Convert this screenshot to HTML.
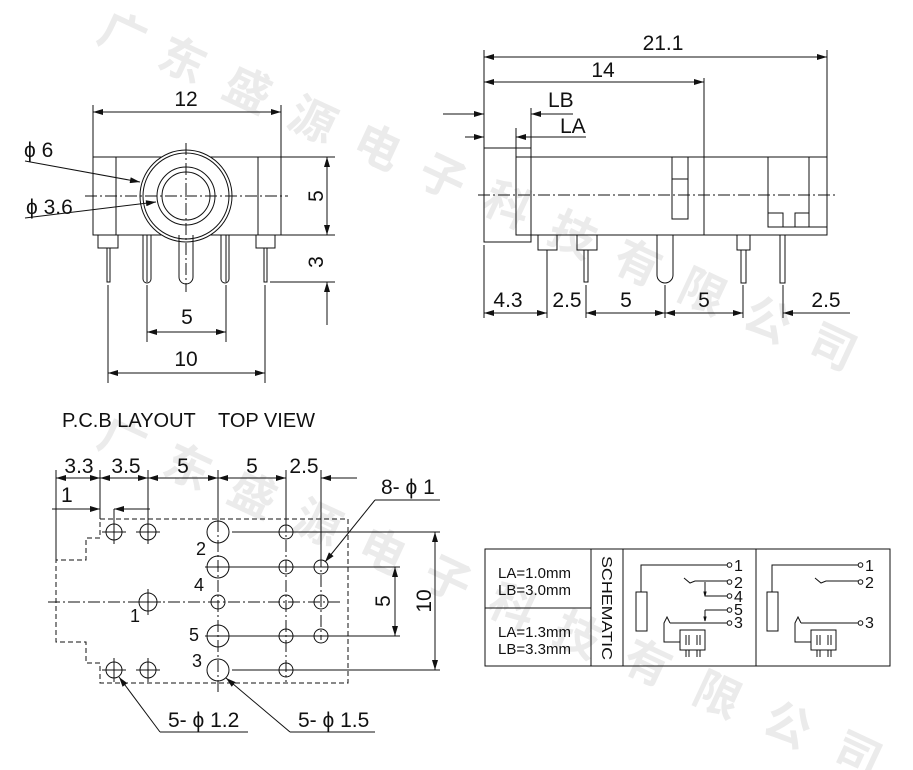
<!DOCTYPE html>
<html><head><meta charset="utf-8"><style>
html,body{margin:0;padding:0;background:#fff}
svg{display:block}
text{font-family:"Liberation Sans",Arial,sans-serif;fill:#111}
.wm text{font-family:"Liberation Sans","Noto Sans CJK SC",sans-serif;fill:#ebebeb;font-size:46px;font-weight:bold}
</style></head><body>
<svg width="913" height="770" viewBox="0 0 913 770" xmlns="http://www.w3.org/2000/svg">
<defs>
<marker id="a" viewBox="0 0 10 6" refX="10" refY="3" markerWidth="14" markerHeight="6" markerUnits="userSpaceOnUse" orient="auto-start-reverse"><path d="M0,0 L10,3 L0,6z" fill="#111"/></marker>
</defs>
<!-- watermark -->
<g class="wm">
<text transform="translate(95,40) rotate(25)">广</text>
<text transform="translate(155,65) rotate(25)">东</text>
<text transform="translate(220,95) rotate(25)">盛</text>
<text transform="translate(285,125) rotate(25)">源</text>
<text transform="translate(350,152) rotate(25)">电</text>
<text transform="translate(415,182) rotate(25)">子</text>
<text transform="translate(480,210) rotate(25)">科</text>
<text transform="translate(545,240) rotate(25)">技</text>
<text transform="translate(610,268) rotate(25)">有</text>
<text transform="translate(675,297) rotate(25)">限</text>
<text transform="translate(740,325) rotate(25)">公</text>
<text transform="translate(805,352) rotate(25)">司</text>
<text transform="translate(95,445) rotate(25)">广</text>
<text transform="translate(160,472) rotate(25)">东</text>
<text transform="translate(225,500) rotate(25)">盛</text>
<text transform="translate(290,528) rotate(25)">源</text>
<text transform="translate(355,556) rotate(25)">电</text>
<text transform="translate(420,584) rotate(25)">子</text>
<text transform="translate(485,612) rotate(25)">科</text>
<text transform="translate(550,640) rotate(25)">技</text>
<text transform="translate(620,668) rotate(25)">有</text>
<text transform="translate(690,700) rotate(25)">限</text>
<text transform="translate(760,730) rotate(25)">公</text>
<text transform="translate(830,760) rotate(25)">司</text>
</g>

<g stroke="#111" stroke-width="1" fill="none">
<!-- FRONT VIEW -->
<line x1="93" y1="105" x2="93" y2="157"/><line x1="281" y1="105" x2="281" y2="157"/>
<line x1="93" y1="112" x2="281" y2="112" marker-start="url(#a)" marker-end="url(#a)"/>
<rect x="93" y="157" width="188" height="78"/>
<line x1="116" y1="157" x2="116" y2="235"/><line x1="258" y1="157" x2="258" y2="235"/>
<circle cx="186" cy="196" r="46" fill="#fff"/><circle cx="186" cy="196" r="43"/>
<circle cx="186" cy="196" r="29"/><circle cx="186" cy="196" r="24"/>
<line x1="85" y1="196" x2="288" y2="196" stroke-dasharray="12,3,2,3"/>
<line x1="186" y1="143" x2="186" y2="292" stroke-dasharray="12,3,2,3"/>
<line x1="25" y1="161" x2="140" y2="182" marker-end="url(#a)"/>
<line x1="25" y1="218" x2="156" y2="202" marker-end="url(#a)"/>
<line x1="281" y1="157" x2="335" y2="157"/><line x1="281" y1="235" x2="335" y2="235"/>
<line x1="327" y1="157" x2="327" y2="235" marker-start="url(#a)" marker-end="url(#a)"/>
<rect x="98" y="235" width="20" height="13"/><rect x="107" y="248" width="3" height="34"/>
<rect x="256" y="235" width="19" height="13"/><rect x="264" y="248" width="3" height="34"/>
<path d="M143,235 V279 a4,4 0 0 0 8,0 V235"/><line x1="147" y1="235" x2="147" y2="282"/>
<path d="M221,235 V279 a4,4 0 0 0 8,0 V235"/><line x1="226" y1="235" x2="226" y2="282"/>
<path d="M179,235 V277 a7,7 0 0 0 14,0 V235"/>
<line x1="270" y1="282" x2="335" y2="282"/>
<line x1="327" y1="325" x2="327" y2="282" marker-end="url(#a)"/>
<line x1="147" y1="285" x2="147" y2="342"/><line x1="226" y1="285" x2="226" y2="342"/>
<line x1="147" y1="332" x2="226" y2="332" marker-start="url(#a)" marker-end="url(#a)"/>
<line x1="108" y1="285" x2="108" y2="383"/><line x1="265" y1="285" x2="265" y2="383"/>
<line x1="108" y1="373" x2="265" y2="373" marker-start="url(#a)" marker-end="url(#a)"/>

<!-- SIDE VIEW -->
<line x1="484" y1="50" x2="484" y2="148"/><line x1="827" y1="50" x2="827" y2="157"/>
<line x1="484" y1="57" x2="827" y2="57" marker-start="url(#a)" marker-end="url(#a)"/>
<line x1="704" y1="78" x2="704" y2="157"/>
<line x1="484" y1="82" x2="704" y2="82" marker-start="url(#a)" marker-end="url(#a)"/>
<line x1="443" y1="114" x2="484" y2="114" marker-end="url(#a)"/>
<line x1="573" y1="114" x2="531" y2="114" marker-end="url(#a)"/>
<line x1="531" y1="108" x2="531" y2="148"/>
<line x1="465" y1="137" x2="484" y2="137" marker-end="url(#a)"/>
<line x1="586" y1="137" x2="516" y2="137" marker-end="url(#a)"/>
<line x1="516" y1="128" x2="516" y2="157"/>
<rect x="484" y="148" width="47" height="94"/>
<rect x="516" y="157" width="311" height="78"/>
<line x1="704" y1="157" x2="704" y2="235"/>
<rect x="672" y="157" width="16" height="62"/><line x1="672" y1="179" x2="688" y2="179"/>
<line x1="768" y1="157" x2="768" y2="227"/><line x1="809" y1="157" x2="809" y2="227"/>
<line x1="768" y1="227" x2="827" y2="227"/>
<rect x="768" y="213" width="15" height="14"/><rect x="795" y="213" width="14" height="14"/>
<line x1="478" y1="195" x2="835" y2="195" stroke-dasharray="12,3,2,3"/>
<rect x="538" y="235" width="19" height="15"/>
<rect x="577" y="235" width="20" height="15"/><rect x="584" y="250" width="4" height="32"/>
<path d="M657,235 V275 a8,8 0 0 0 16,0 V235"/>
<rect x="737" y="235" width="13" height="15"/><rect x="741" y="250" width="5" height="33"/>
<rect x="780" y="235" width="5" height="48"/>
<line x1="484" y1="245" x2="484" y2="318"/><line x1="547" y1="250" x2="547" y2="318"/>
<line x1="586" y1="285" x2="586" y2="318"/><line x1="665" y1="285" x2="665" y2="318"/>
<line x1="743" y1="285" x2="743" y2="318"/><line x1="783" y1="285" x2="783" y2="318"/>
<line x1="484" y1="313" x2="547" y2="313" marker-start="url(#a)" marker-end="url(#a)"/>
<line x1="586" y1="313" x2="665" y2="313" marker-start="url(#a)" marker-end="url(#a)"/>
<line x1="665" y1="313" x2="743" y2="313" marker-start="url(#a)" marker-end="url(#a)"/>
<line x1="850" y1="313" x2="783" y2="313" marker-end="url(#a)"/>

<!-- PCB LAYOUT -->
<line x1="56" y1="470" x2="56" y2="560"/><line x1="100" y1="470" x2="100" y2="519"/>
<line x1="148" y1="470" x2="148" y2="520"/><line x1="218" y1="470" x2="218" y2="520"/>
<line x1="286" y1="470" x2="286" y2="520"/><line x1="321" y1="470" x2="321" y2="555"/>
<line x1="56" y1="478" x2="100" y2="478" marker-start="url(#a)" marker-end="url(#a)"/>
<line x1="100" y1="478" x2="148" y2="478" marker-start="url(#a)" marker-end="url(#a)"/>
<line x1="148" y1="478" x2="218" y2="478" marker-start="url(#a)" marker-end="url(#a)"/>
<line x1="218" y1="478" x2="286" y2="478" marker-start="url(#a)" marker-end="url(#a)"/>
<line x1="357" y1="478" x2="321" y2="478" marker-end="url(#a)"/>
<line x1="52" y1="509" x2="100" y2="509" marker-end="url(#a)"/>
<line x1="150" y1="509" x2="114" y2="509" marker-end="url(#a)"/>
<line x1="114" y1="509" x2="114" y2="522"/>
<path d="M100,519 H348 V683 H100 V663 H86 V642 H56 V560 H86 V538 H100 Z" stroke-dasharray="5,3"/>
<line x1="48" y1="602" x2="340" y2="602" stroke-dasharray="12,3,2,3"/>
<line x1="218" y1="520" x2="218" y2="695" stroke-dasharray="12,3,2,3"/>
<line x1="286" y1="520" x2="286" y2="682" stroke-dasharray="12,3,2,3"/>
<line x1="321" y1="555" x2="321" y2="640" stroke-dasharray="12,3,2,3"/>
<line x1="232" y1="532" x2="440" y2="532"/><line x1="205" y1="567" x2="400" y2="567"/>
<line x1="205" y1="636" x2="400" y2="636"/><line x1="232" y1="670" x2="440" y2="670"/>
<line x1="395" y1="567" x2="395" y2="636" marker-start="url(#a)" marker-end="url(#a)"/>
<line x1="435" y1="532" x2="435" y2="670" marker-start="url(#a)" marker-end="url(#a)"/>
<g>
<circle cx="114" cy="532" r="8"/><circle cx="148" cy="532" r="8"/><circle cx="218" cy="532" r="11"/><circle cx="286" cy="532" r="7"/>
<circle cx="218" cy="567" r="11"/><circle cx="286" cy="567" r="7"/><circle cx="321" cy="567" r="7"/>
<circle cx="148" cy="602" r="9"/><circle cx="218" cy="602" r="7"/><circle cx="286" cy="602" r="7"/><circle cx="321" cy="602" r="7"/>
<circle cx="218" cy="636" r="11"/><circle cx="286" cy="636" r="7"/><circle cx="321" cy="636" r="7"/>
<circle cx="114" cy="670" r="8"/><circle cx="148" cy="670" r="8"/><circle cx="218" cy="670" r="11"/><circle cx="286" cy="670" r="7"/>
<path d="M114,520V544M102,532H126M148,520V544M136,532H160M114,658V682M102,670H126M148,658V682M136,670H160M148,589V615M135,602H161"/>
</g>
<path d="M440,500 H375"/><line x1="375" y1="500" x2="325" y2="562" marker-end="url(#a)"/>
<path d="M248,732 H160"/><line x1="160" y1="732" x2="119" y2="677" marker-end="url(#a)"/>
<path d="M375,732 H290"/><line x1="290" y1="732" x2="226" y2="678" marker-end="url(#a)"/>

<!-- SCHEMATIC TABLE -->
<rect x="485" y="549" width="405" height="117"/>
<line x1="591" y1="549" x2="591" y2="666"/><line x1="623" y1="549" x2="623" y2="666"/>
<line x1="756" y1="549" x2="756" y2="666"/><line x1="485" y1="608" x2="591" y2="608"/>
<g>
<path d="M641,592 V565 H727"/><rect x="636" y="592" width="11" height="39"/>
<path d="M684,578 L690,583 L695,581 H727"/>
<path d="M705,582 V596 H727"/><path d="M705,610 H727 M705,610 V621"/>
<path d="M670,623 H727 M670,623 L667,617 L664,623 V642 H680"/>
<rect x="680" y="630" width="25" height="20"/>
<path d="M686,650 V657 M689,650 V657 M697,650 V657 M700,650 V657 M686,635 V645 M689,635 V645 M697,635 V645 M700,635 V645"/>
<circle cx="729.5" cy="565" r="2.3"/><circle cx="729.5" cy="582" r="2.3"/><circle cx="729.5" cy="596" r="2.3"/><circle cx="729.5" cy="610" r="2.3"/><circle cx="729.5" cy="623" r="2.3"/>
</g>
<path d="M704,592 L705,596 L706,592Z M704,617 L705,621 L706,617Z" fill="#111"/>
<g>
<path d="M772,592 V565 H858"/><rect x="767" y="592" width="11" height="39"/>
<path d="M815,578 L821,583 L826,581 H858"/>
<path d="M801,623 H858 M801,623 L798,617 L795,623 V642 H811"/>
<rect x="811" y="630" width="25" height="20"/>
<path d="M817,650 V657 M820,650 V657 M828,650 V657 M831,650 V657 M817,635 V645 M820,635 V645 M828,635 V645 M831,635 V645"/>
<circle cx="860.5" cy="565" r="2.3"/><circle cx="860.5" cy="582" r="2.3"/><circle cx="860.5" cy="623" r="2.3"/>
</g>
</g>

<!-- TEXT -->
<g font-size="21">
<text x="186" y="106" text-anchor="middle">12</text>
<text x="24" y="157">ϕ 6</text>
<text x="26" y="214">ϕ 3.6</text>
<text transform="translate(323,196) rotate(-90)" text-anchor="middle">5</text>
<text transform="translate(323,262) rotate(-90)" text-anchor="middle">3</text>
<text x="187" y="324" text-anchor="middle">5</text>
<text x="186" y="366" text-anchor="middle">10</text>
<text x="663" y="50" text-anchor="middle">21.1</text>
<text x="603" y="77" text-anchor="middle">14</text>
<text x="548" y="107">LB</text>
<text x="560" y="133">LA</text>
<text x="508" y="307" text-anchor="middle">4.3</text>
<text x="567" y="307" text-anchor="middle">2.5</text>
<text x="626" y="307" text-anchor="middle">5</text>
<text x="704" y="307" text-anchor="middle">5</text>
<text x="826" y="307" text-anchor="middle">2.5</text>
<text x="62" y="427" font-size="20">P.C.B LAYOUT&#160;&#160;&#160;&#160;TOP VIEW</text>
<text x="79" y="473" text-anchor="middle">3.3</text>
<text x="126" y="473" text-anchor="middle">3.5</text>
<text x="183" y="473" text-anchor="middle">5</text>
<text x="252" y="473" text-anchor="middle">5</text>
<text x="304" y="473" text-anchor="middle">2.5</text>
<text x="61" y="502">1</text>
<text x="381" y="494">8- ϕ 1</text>
<text transform="translate(390,601) rotate(-90)" text-anchor="middle">5</text>
<text transform="translate(431,601) rotate(-90)" text-anchor="middle">10</text>
<text x="168" y="727">5- ϕ 1.2</text>
<text x="298" y="727">5- ϕ 1.5</text>
</g>
<g font-size="18">
<text x="196" y="555">2</text><text x="194" y="591">4</text><text x="130" y="622">1</text>
<text x="189" y="641">5</text><text x="192" y="667">3</text>
</g>
<g font-size="15">
<text x="498" y="578">LA=1.0mm</text><text x="498" y="595">LB=3.0mm</text>
<text x="498" y="637">LA=1.3mm</text><text x="498" y="654">LB=3.3mm</text>
<text transform="translate(602,556) rotate(90)" textLength="104" lengthAdjust="spacingAndGlyphs">SCHEMATIC</text>
</g>
<g font-size="16">
<text x="734" y="571">1</text><text x="734" y="588">2</text><text x="734" y="602">4</text><text x="734" y="615">5</text><text x="734" y="628">3</text>
<text x="865" y="571">1</text><text x="865" y="588">2</text><text x="865" y="628">3</text>
</g>
</svg>
</body></html>
